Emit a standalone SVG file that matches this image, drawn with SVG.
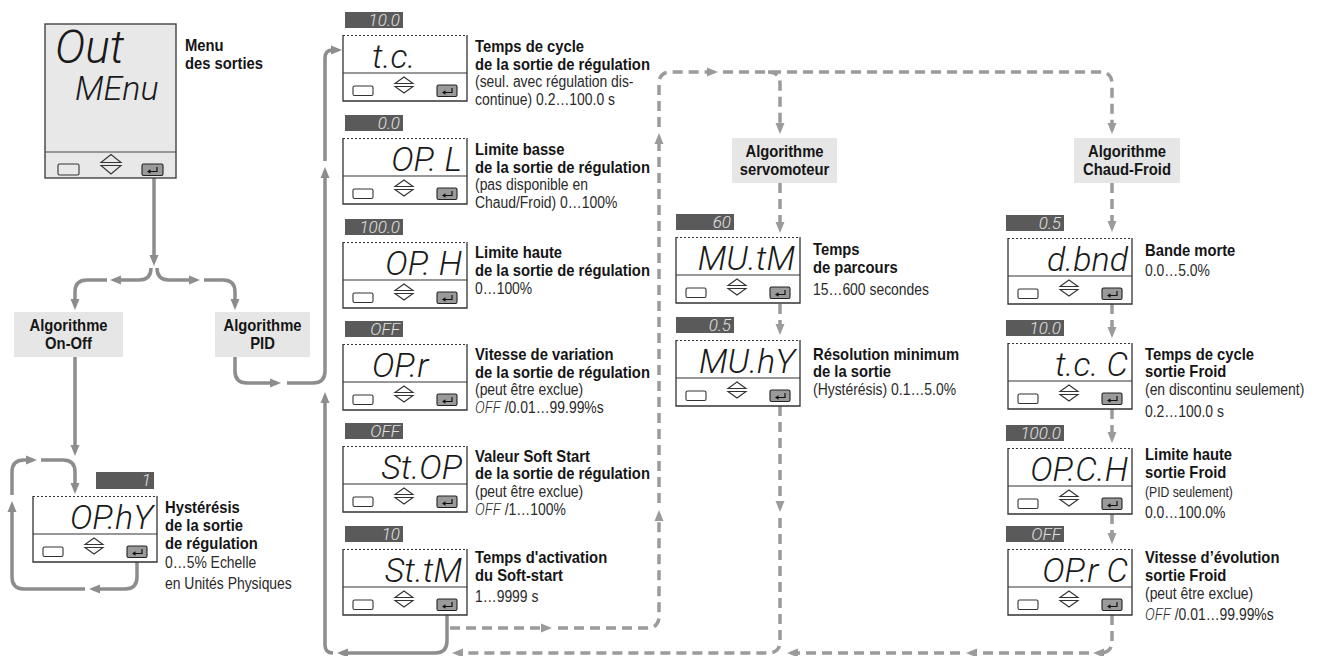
<svg xmlns="http://www.w3.org/2000/svg" width="1318" height="656" viewBox="0 0 1318 656">
<defs>
<style>
.b{font-family:"Liberation Sans",Arial,sans-serif;font-weight:bold;font-size:17px;fill:#151515}
.r{font-family:"Liberation Sans",Arial,sans-serif;font-size:16px;fill:#2a2a2a}
.rs{font-size:14px}
.lcd{font-family:Roboto,"DejaVu Sans",sans-serif;font-style:italic;font-weight:300;font-size:34px;fill:#1a1a1a}
.lcds{font-family:Roboto,"DejaVu Sans",sans-serif;font-style:italic;font-weight:300;font-size:17px}
.bv{font-family:Roboto,"DejaVu Sans",sans-serif;font-style:italic;font-weight:300;font-size:17px;fill:#e2e2e2;text-anchor:end}
.end{text-anchor:end}
.mid{text-anchor:middle}
.badge{fill:#5a5a5a}
.alg{fill:#e6e6e6}
.s{fill:none;stroke:#8d8d8d;stroke-width:3.5;stroke-linejoin:round}
.d{fill:none;stroke:#9b9b9b;stroke-width:3.5;stroke-dasharray:10 6}
</style>
<marker id="as" markerUnits="userSpaceOnUse" markerWidth="11" markerHeight="10" viewBox="0 0 11 10" refX="7" refY="5" orient="auto"><path d="M0,0.5 L11,5 L0,9.5 Z" fill="#8d8d8d"/></marker>
<marker id="ad" markerUnits="userSpaceOnUse" markerWidth="11" markerHeight="10" viewBox="0 0 11 10" refX="7" refY="5" orient="auto"><path d="M0,0.5 L11,5 L0,9.5 Z" fill="#9b9b9b"/></marker>
<g id="panel">
<rect width="124" height="66" fill="#fff"/>
<path d="M0,0 V66 H124 V0" fill="none" stroke="#333" stroke-width="1.3"/>
<line x1="0" y1="0.5" x2="124" y2="0.5" stroke="#333" stroke-width="1.2" stroke-dasharray="2 2"/>
<line x1="0" y1="38" x2="124" y2="38" stroke="#333" stroke-width="1.2"/>
<rect x="10" y="51" width="20" height="9.5" rx="1.5" fill="#fff" stroke="#333" stroke-width="1.1"/>
<path d="M52,48.5 L61,42 L70,48.5 Z M52,51.5 H70 L61,58 Z" fill="#fff" stroke="#333" stroke-width="1.1"/>
<rect x="94" y="50" width="20" height="11.5" rx="1.5" fill="#9a9a9a" stroke="#222" stroke-width="1.1"/>
<path d="M109,53 V57.5 H101" fill="none" stroke="#111" stroke-width="1.2"/>
<path d="M102.5,55.3 L99,57.5 L102.5,59.7 Z" fill="#111"/>
</g>
</defs>
<rect width="1318" height="656" fill="#fff"/>

<g id="connectors">
<path class="s" marker-end="url(#as)" d="M154,178 V262"/>
<path class="s" marker-end="url(#as)" d="M151,268 Q151,280 139,280 H114"/>
<path class="s" marker-end="url(#as)" d="M107,280 H87 Q75,280 75,292 V306"/>
<path class="s" marker-end="url(#as)" d="M157,268 Q157,280 169,280 H196"/>
<path class="s" marker-end="url(#as)" d="M204,280 H223 Q235,280 235,292 V306"/>
<path class="s" marker-end="url(#as)" d="M75,357 V452"/>
<path class="s" marker-end="url(#as)" d="M137,562 V577 Q137,589 125,589 H93"/>
<path class="s" marker-end="url(#as)" d="M85,589 H24 Q12,589 12,577 V505"/>
<path class="s" marker-end="url(#as)" d="M12,495 V472 Q12,460 24,460 H33"/>
<path class="s" marker-end="url(#as)" d="M41,460 H63 Q75,460 75,472 V490"/>
<path class="s" marker-end="url(#as)" d="M235,357 V371 Q235,383 247,383 H277"/>
<path class="s" marker-end="url(#as)" d="M287,383 H313 Q325,383 325,371 V171"/>
<path class="s" marker-end="url(#as)" d="M325,161 V58 Q325,50 333,50 H338"/>
<path class="s" marker-end="url(#as)" d="M447,614 V641 Q447,653 435,653 H341"/>
<path class="s" marker-end="url(#as)" d="M333,653 Q325,653 325,645 V396"/>
<path class="d" marker-end="url(#ad)" d="M450,628 H548"/>
<path class="d" marker-end="url(#ad)" d="M558,628 H647 Q659,628 659,616 V514"/>
<path class="d" marker-end="url(#ad)" d="M659,503 V137"/>
<path class="d" marker-end="url(#ad)" d="M659,127 V84 Q659,72 671,72 H714"/>
<path class="d" marker-end="url(#ad)" d="M723,72 H1100 Q1112,72 1112,84 V130"/>
<path class="d" marker-end="url(#ad)" d="M768,72 Q780,72 780,84 V130"/>
<path class="d" marker-end="url(#ad)" d="M780,183 V229"/>
<path class="d" marker-end="url(#ad)" d="M780,304 V331"/>
<path class="d" marker-end="url(#ad)" d="M780,406 V508"/>
<path class="d" marker-end="url(#ad)" d="M780,518 V641 Q780,653 768,653 H456"/>
<path class="d" marker-end="url(#ad)" d="M1112,183 V228"/>
<path class="d" marker-end="url(#ad)" d="M1112,304 V334"/>
<path class="d" marker-end="url(#ad)" d="M1112,409 V439"/>
<path class="d" marker-end="url(#ad)" d="M1112,514 V540"/>
<path class="d" marker-end="url(#ad)" d="M1112,615 V641 Q1112,653 1100,653 H1097"/>
<path class="d" marker-end="url(#ad)" d="M1089,653 H970"/>
<path class="d" marker-end="url(#ad)" d="M960,653 H791"/>
</g>

<g id="out-menu">
<rect x="45" y="24" width="131" height="154" fill="#e8e8e8" stroke="#444" stroke-width="1.4"/>
<line x1="45" y1="152" x2="176" y2="152" stroke="#444" stroke-width="1.2"/>
<rect x="58" y="164" width="21" height="11" rx="1.5" fill="#e8e8e8" stroke="#333" stroke-width="1.1"/>
<path d="M101,162.5 L111,154.5 L121,162.5 Z M101,165.5 H121 L111,174 Z" fill="#e8e8e8" stroke="#333" stroke-width="1.1"/>
<rect x="142" y="164" width="21" height="11.5" rx="1.5" fill="#9a9a9a" stroke="#222" stroke-width="1.1"/>
<path d="M157,167 V171.5 H149" fill="none" stroke="#111" stroke-width="1.2"/>
<path d="M150.5,169.3 L147,171.5 L150.5,173.7 Z" fill="#111"/>
<text class="lcd" x="55" y="63" style="font-size:46px">Out</text>
<text class="lcd" x="75" y="100">MEnu</text>
<g transform="translate(185,0) scale(0.87,1)"><text class="b" y="51">Menu</text><text class="b" y="69">des sorties</text></g>
</g>

<g id="alg-onoff"><rect class="alg" x="14" y="312" width="109" height="45"/>
<g transform="translate(68.5,0) scale(0.87,1)"><text class="b mid" y="331">Algorithme</text><text class="b mid" y="349">On-Off</text></g></g>
<g id="alg-pid"><rect class="alg" x="215" y="312" width="95" height="45"/>
<g transform="translate(262.5,0) scale(0.87,1)"><text class="b mid" y="331">Algorithme</text><text class="b mid" y="349">PID</text></g></g>
<g id="alg-servo"><rect class="alg" x="732" y="138" width="105" height="45"/>
<g transform="translate(784.5,0) scale(0.87,1)"><text class="b mid" y="157">Algorithme</text><text class="b mid" y="175">servomoteur</text></g></g>
<g id="alg-cf"><rect class="alg" x="1074" y="138" width="106" height="45"/>
<g transform="translate(1127,0) scale(0.87,1)"><text class="b mid" y="157">Algorithme</text><text class="b mid" y="175">Chaud-Froid</text></g></g>

<g id="ophy">
<rect class="badge" x="96" y="472" width="58" height="17"/><text class="bv" x="151" y="486">1</text>
<use href="#panel" x="33" y="496"/>
<text class="lcd end" x="153" y="529">OP.hY</text>
<g transform="translate(165,0) scale(0.87,1)"><text class="b" y="513">Hystérésis</text><text class="b" y="531">de la sortie</text><text class="b" y="549">de régulation</text><text class="r" y="568">0…5% Echelle</text><text class="r" y="589">en Unités Physiques</text></g>
</g>

<g id="tc">
<rect class="badge" x="345" y="12" width="58" height="16"/><text class="bv" x="400" y="26">10.0</text>
<use href="#panel" x="343" y="35"/>
<text class="lcd" x="372" y="68">t.c.</text>
<g transform="translate(475,0) scale(0.87,1)"><text class="b" y="52">Temps de cycle</text><text class="b" y="70">de la sortie de régulation</text><text class="r" y="87">(seul. avec régulation dis-</text><text class="r" y="105">continue) 0.2…100.0 s</text></g>
</g>

<g id="opl">
<rect class="badge" x="345" y="115" width="58" height="16"/><text class="bv" x="400" y="129">0.0</text>
<use href="#panel" x="343" y="138"/>
<text class="lcd end" x="462" y="171">OP. L</text>
<g transform="translate(475,0) scale(0.87,1)"><text class="b" y="155">Limite basse</text><text class="b" y="173">de la sortie de régulation</text><text class="r" y="190">(pas disponible en</text><text class="r" y="208">Chaud/Froid)  0…100%</text></g>
</g>

<g id="oph">
<rect class="badge" x="345" y="219" width="58" height="16"/><text class="bv" x="400" y="233">100.0</text>
<use href="#panel" x="343" y="242"/>
<text class="lcd end" x="462" y="275">OP. H</text>
<g transform="translate(475,0) scale(0.87,1)"><text class="b" y="258">Limite haute</text><text class="b" y="276">de la sortie de régulation</text><text class="r" y="294">0…100%</text></g>
</g>

<g id="opr">
<rect class="badge" x="345" y="321" width="58" height="16"/><text class="bv" x="400" y="335">OFF</text>
<use href="#panel" x="343" y="344"/>
<text class="lcd" x="372" y="377">OP.r</text>
<g transform="translate(475,0) scale(0.87,1)"><text class="b" y="360">Vitesse de variation</text><text class="b" y="378">de la sortie de régulation</text><text class="r" y="395">(peut être exclue)</text><text class="r" y="413"><tspan class="lcds">OFF</tspan> /0.01…99.99%s</text></g>
</g>

<g id="stop">
<rect class="badge" x="345" y="423" width="58" height="16"/><text class="bv" x="400" y="437">OFF</text>
<use href="#panel" x="343" y="446"/>
<text class="lcd end" x="462" y="479">St.OP</text>
<g transform="translate(475,0) scale(0.87,1)"><text class="b" y="462">Valeur Soft Start</text><text class="b" y="479">de la sortie de régulation</text><text class="r" y="497">(peut être exclue)</text><text class="r" y="515"><tspan class="lcds">OFF</tspan> /1…100%</text></g>
</g>

<g id="sttm">
<rect class="badge" x="345" y="526" width="58" height="16"/><text class="bv" x="400" y="540">10</text>
<use href="#panel" x="343" y="549"/>
<text class="lcd end" x="462" y="582">St.tM</text>
<g transform="translate(475,0) scale(0.87,1)"><text class="b" y="563">Temps d'activation</text><text class="b" y="581">du Soft-start</text><text class="r" y="602">1…9999 s</text></g>
</g>

<g id="mutm">
<rect class="badge" x="676" y="214" width="58" height="16"/><text class="bv" x="731" y="228">60</text>
<use href="#panel" x="676" y="237"/>
<text class="lcd end" x="795" y="270">MU.tM</text>
<g transform="translate(813,0) scale(0.87,1)"><text class="b" y="255">Temps</text><text class="b" y="273">de parcours</text><text class="r" y="295">15…600 secondes</text></g>
</g>

<g id="muhy">
<rect class="badge" x="676" y="317" width="58" height="16"/><text class="bv" x="731" y="331">0.5</text>
<use href="#panel" x="676" y="340"/>
<text class="lcd end" x="795" y="373">MU.hY</text>
<g transform="translate(813,0) scale(0.87,1)"><text class="b" y="360">Résolution minimum</text><text class="b" y="377">de la sortie</text><text class="r" y="395">(Hystérésis) 0.1…5.0%</text></g>
</g>

<g id="dbnd">
<rect class="badge" x="1006" y="215" width="58" height="16"/><text class="bv" x="1061" y="229">0.5</text>
<use href="#panel" x="1008" y="238"/>
<text class="lcd end" x="1128" y="271">d.bnd</text>
<g transform="translate(1145,0) scale(0.87,1)"><text class="b" y="256">Bande morte</text><text class="r" y="276">0.0…5.0%</text></g>
</g>

<g id="tcc">
<rect class="badge" x="1006" y="320" width="58" height="16"/><text class="bv" x="1061" y="334">10.0</text>
<use href="#panel" x="1008" y="343"/>
<text class="lcd end" x="1128" y="376">t.c. C</text>
<g transform="translate(1145,0) scale(0.87,1)"><text class="b" y="360">Temps de cycle</text><text class="b" y="377">sortie Froid</text><text class="r" y="395">(en discontinu seulement)</text><text class="r" y="417">0.2…100.0 s</text></g>
</g>

<g id="opch">
<rect class="badge" x="1006" y="425" width="58" height="16"/><text class="bv" x="1061" y="439">100.0</text>
<use href="#panel" x="1008" y="448"/>
<text class="lcd end" x="1128" y="481">OP.C.H</text>
<g transform="translate(1145,0) scale(0.87,1)"><text class="b" y="460">Limite haute</text><text class="b" y="478">sortie Froid</text><text class="r rs" y="497">(PID seulement)</text><text class="r" y="518">0.0…100.0%</text></g>
</g>

<g id="oprc">
<rect class="badge" x="1006" y="526" width="58" height="16"/><text class="bv" x="1061" y="540">OFF</text>
<use href="#panel" x="1008" y="549"/>
<text class="lcd end" x="1128" y="582">OP.r C</text>
<g transform="translate(1145,0) scale(0.87,1)"><text class="b" y="563">Vitesse d’évolution</text><text class="b" y="581">sortie Froid</text><text class="r" y="599">(peut être exclue)</text><text class="r" y="620"><tspan class="lcds">OFF</tspan> /0.01…99.99%s</text></g>
</g>
</svg>
